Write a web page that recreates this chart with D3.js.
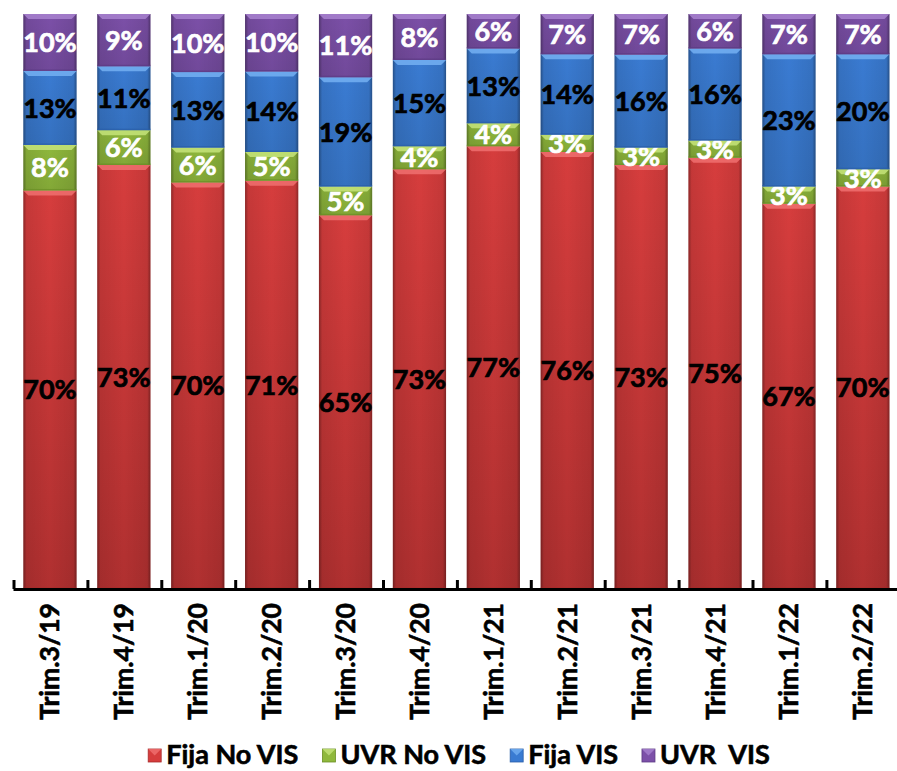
<!DOCTYPE html>
<html><head><meta charset="utf-8">
<script src="https://cdn.jsdelivr.net/npm/d3@7"></script>
<style>body{margin:0;background:#fff}svg{display:block}</style>
</head><body>
<svg id="c" width="897" height="771"></svg>
<script>
const categories = ["Trim.3/19","Trim.4/19","Trim.1/20","Trim.2/20","Trim.3/20","Trim.4/20","Trim.1/21","Trim.2/21","Trim.3/21","Trim.4/21","Trim.1/22","Trim.2/22"];
const fijaNoVIS = [70,73,70,71,65,73,77,76,73,75,67,70];
const uvrNoVIS  = [8,6,6,5,5,4,4,3,3,3,3,3];
const fijaVIS   = [13,11,13,14,19,15,13,14,16,16,23,20];
const uvrVIS    = [10,9,10,10,11,8,6,7,7,6,7,7];
const seriesNames = ["Fija No VIS","UVR No VIS","Fija VIS","UVR  VIS"];

(function(){
const seriesStyle = [
  {base:"#d63d3d", light:"#f07070", dark:"#a82a2a", label:"#000"},
  {base:"#8fb83c", light:"#c6e47a", dark:"#6a8f25", label:"#fff"},
  {base:"#3a7bd2", light:"#74b0f2", dark:"#2a5ea8", label:"#000"},
  {base:"#7c50a8", light:"#a882cf", dark:"#5d3a84", label:"#fff"}
];
const seriesData = [fijaNoVIS, uvrNoVIS, fijaVIS, uvrVIS];
const FONT = "Lato, 'Open Sans', sans-serif";
const WEIGHT = "bold";

const svg = d3.select("#c");
const defs = svg.append("defs");
const pLeft = 13, pRight = 899.8, pTop = 14, pBottom = 589;

const x = d3.scaleBand().domain(categories).range([pLeft, pRight]).padding(0);
const barW = x.bandwidth() * 0.72;
const y = d3.scaleLinear().domain([0, 1]).range([pBottom, pTop]);

seriesStyle.forEach((s, i) => {
  const g = defs.append("linearGradient").attr("id", "v" + i).attr("x1", 0).attr("y1", 0).attr("x2", 0).attr("y2", 1);
  g.append("stop").attr("offset", 0).attr("stop-color", s.base);
  g.append("stop").attr("offset", 1).attr("stop-color", i === 0 ? "#b03030" : d3.color(s.base).darker(0.25));
});
const hs = defs.append("linearGradient").attr("id", "side").attr("x1", 0).attr("x2", 1).attr("y1", 0).attr("y2", 0);
[[0, 0.35],[0.06, 0.08],[0.5, 0],[0.94, 0.08],[1, 0.35]].forEach(([o, a]) =>
  hs.append("stop").attr("offset", o).attr("stop-color", "#000").attr("stop-opacity", a));

const rows = categories.map((c, j) => {
  const vals = seriesData.map(s => s[j]);
  const tot = d3.sum(vals);
  const r = {cat: c};
  vals.forEach((v, i) => r["s" + i] = v / tot);
  r.raw = vals;
  return r;
});
const stack = d3.stack().keys(seriesData.map((_, i) => "s" + i))(rows);

const bars = svg.append("g");
stack.forEach((layer, i) => {
  const st = seriesStyle[i];
  layer.forEach((d, j) => {
    const cx = x(categories[j]) + x.bandwidth() / 2;
    const x0 = cx - barW / 2, x1 = cx + barW / 2;
    const y0 = y(d[1]), y1 = y(d[0]);
    const h = y1 - y0;
    const g = bars.append("g");
    g.append("rect").attr("x", x0).attr("y", y0).attr("width", barW).attr("height", h).attr("fill", `url(#v${i})`);
    g.append("rect").attr("x", x0).attr("y", y0).attr("width", barW).attr("height", h).attr("fill", "url(#side)");
    const b = Math.min(5, h / 3);
    g.append("polygon").attr("points", [[x0, y0], [x1, y0], [x1 - b, y0 + b], [x0 + b, y0 + b]].map(p => p.join(",")).join(" "))
      .attr("fill", st.light).attr("opacity", 0.85);
    g.append("rect").attr("x", x0).attr("y", y1 - 1.5).attr("width", barW).attr("height", 1.5).attr("fill", st.dark).attr("opacity", 0.7);
    g.append("text").attr("x", cx).attr("y", (y0 + y1) / 2).attr("dy", "0.36em")
      .attr("text-anchor", "middle").attr("font-family", FONT).attr("font-weight", WEIGHT).attr("font-size", 27)
      .attr("fill", st.label).attr("stroke", st.label).attr("stroke-width", 0.7)
      .text(d.data.raw[i] + "%");
  });
});

const ax = svg.append("g").attr("transform", `translate(0,${pBottom})`)
  .call(d3.axisBottom(x).tickSizeInner(0).tickSizeOuter(0).tickFormat(""));
ax.select(".domain").attr("stroke", "#000").attr("stroke-width", 3);
const bounds = categories.map(c => x(c));
svg.append("g").selectAll("line").data(bounds).join("line")
  .attr("x1", d => d + 1).attr("x2", d => d + 1).attr("y1", pBottom - 9).attr("y2", pBottom)
  .attr("stroke", "#000").attr("stroke-width", 3);

svg.append("g").selectAll("text").data(categories).join("text")
  .attr("transform", d => `translate(${x(d) + x.bandwidth() / 2},603) rotate(-90)`)
  .attr("dy", "0.36em").attr("text-anchor", "end")
  .attr("font-family", FONT).attr("font-weight", WEIGHT).attr("font-size", 26.5).attr("fill", "#000")
  .attr("stroke", "#000").attr("stroke-width", 0.6)
  .text(d => d);

const leg = svg.append("g");
let lx = 0;
const GAP = 24;
seriesNames.forEach((n, i) => {
  const g = leg.append("g");
  const st = seriesStyle[i];
  g.append("rect").attr("x", lx).attr("y", -15).attr("width", 13).attr("height", 13).attr("fill", st.base).attr("stroke", st.dark).attr("stroke-width", 0.8);
  g.append("polygon").attr("points", `${lx},-15 ${lx + 13},-15 ${lx + 6.5},-8.5`).attr("fill", st.light).attr("opacity", 0.8);
  const t = g.append("text").attr("x", lx + 18).attr("y", 0).attr("font-family", FONT).attr("font-weight", WEIGHT)
    .attr("font-size", 27).attr("fill", "#000").attr("stroke", "#000").attr("stroke-width", 0.6)
    .style("white-space", "pre").text(n);
  lx += 18 + t.node().getComputedTextLength() + GAP;
});
const legW = lx - GAP;
leg.attr("transform", `translate(${459 - legW / 2},764)`);
})();
</script>
</body></html>
